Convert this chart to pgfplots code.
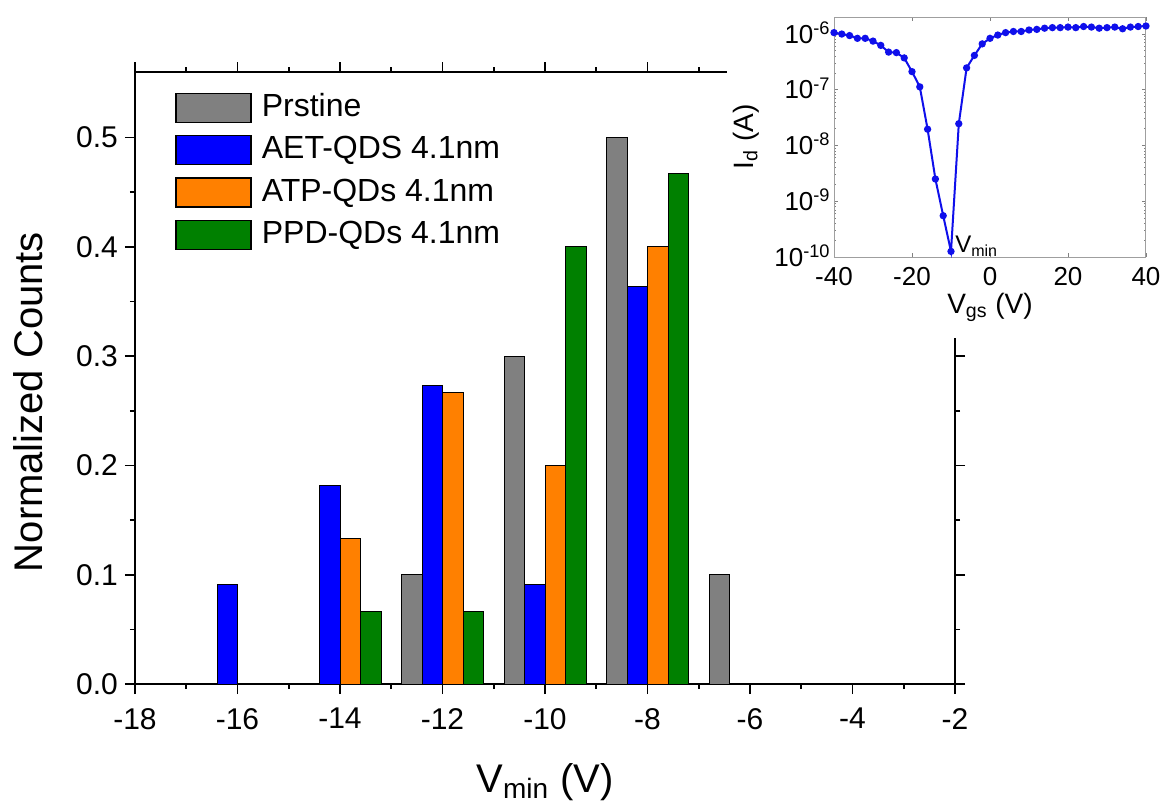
\documentclass[border=0pt]{standalone}
\usepackage{fontspec}
\setmainfont{Liberation Sans}
\usepackage{pgfplots}
\pgfplotsset{compat=1.18}

\definecolor{cGrey}{RGB}{128,128,128}
\definecolor{cBlue}{RGB}{0,0,255}
\definecolor{cOrange}{RGB}{255,128,0}
\definecolor{cGreen}{RGB}{0,128,0}
\definecolor{cLine}{RGB}{15,15,235}

\pgfplotsset{
  boxlegend/.style={legend image code/.code={%
    \draw[##1, line width=0.7pt] (0pt,-7.25pt) rectangle (37.5pt,7.25pt);}},
  histbar/.style={ybar, bar width=0.4, draw=black, line width=0.5pt, boxlegend},
}

\begin{document}
\begin{tikzpicture}[x=1pt,y=1pt]
\path[use as bounding box] (0,0) rectangle (581,405.5);

% histogram of V_min
\begin{axis}[
  at={(67.5pt,63.5pt)}, anchor=south west,
  scale only axis, width=410pt, height=306pt,
  xmin=-18, xmax=-2, ymin=0, ymax=0.56,
  xtick={-18,-16,-14,-12,-10,-8,-6,-4,-2},
  ytick={0,0.1,0.2,0.3,0.4,0.5},
  minor x tick num=1, minor y tick num=1,
  tick align=outside, major tick length=5pt, minor tick length=2.5pt,
  axis line style={line width=1pt},
  every tick/.style={black, line width=0.8pt},
  /pgf/number format/assume math mode=true,
  yticklabel style={/pgf/number format/.cd, fixed, fixed zerofill, precision=1},
  xticklabel style={yshift=-3.5pt},
  tick label style={font=\fontsize{15}{18}\selectfont},
  xlabel={V\textsubscript{min} (V)},
  ylabel={Normalized Counts},
  every axis x label/.style={at={(axis description cs:0.5,-0.1765)}, anchor=base,
    font=\fontsize{20}{24}\selectfont},
  every axis y label/.style={at={(axis description cs:-0.1122,0.4608)}, rotate=90,
    anchor=base, font=\fontsize{20}{24}\selectfont},
  legend style={at={(0.0488,0.967)}, anchor=north west, draw=none, fill=none,
    inner sep=0pt, row sep=6pt, column sep=5pt,
    font=\fontsize{16}{19}\selectfont,
    nodes={inner sep=0pt, text height=11.5pt, text depth=3pt}},
  legend cell align=left,
]
\addplot[histbar, bar shift=-0.6, fill=cGrey]
  coordinates {(-12,0.1) (-10,0.3) (-8,0.5) (-6,0.1)};
\addlegendentry{Prstine}
\addplot[histbar, bar shift=-0.2, fill=cBlue]
  coordinates {(-16,0.0909) (-14,0.1818) (-12,0.2727) (-10,0.0909) (-8,0.3636)};
\addlegendentry{AET-QDS 4.1nm}
\addplot[histbar, bar shift=0.2, fill=cOrange]
  coordinates {(-14,0.1333) (-12,0.2667) (-10,0.2) (-8,0.4)};
\addlegendentry{ATP-QDs 4.1nm}
\addplot[histbar, bar shift=0.6, fill=cGreen]
  coordinates {(-14,0.0667) (-12,0.0667) (-10,0.4) (-8,0.4667)};
\addlegendentry{PPD-QDs 4.1nm}
\end{axis}

% blank panel behind the transfer curve
\fill[white] (363.5,236.5) rectangle (581,405.5);

% transfer curve I_d vs V_gs
\begin{axis}[
  at={(417pt,277pt)}, anchor=south west,
  scale only axis, width=156pt, height=120pt,
  xmin=-40, xmax=40, ymode=log, ymin=1e-10, ymax=2e-6,
  xtick={-40,-20,0,20,40},
  ytick={1e-10,1e-9,1e-8,1e-7,1e-6},
  yticklabels={10\textsuperscript{-10},10\textsuperscript{-9},10\textsuperscript{-8},10\textsuperscript{-7},10\textsuperscript{-6}},
  axis line style={gray!75, line width=0.5pt},
  tick align=inside, major tick length=2pt, minor tick length=1.2pt,
  every tick/.style={gray, line width=0.3pt},
  /pgf/number format/assume math mode=true,
  tick label style={font=\fontsize{13}{15}\selectfont},
  yticklabel style={inner sep=0pt, anchor=base east, yshift=-4.6pt, xshift=-1.5pt,
    text depth=0pt},
  xticklabel style={inner sep=0pt, yshift=-5pt},
  xlabel={V\textsubscript{gs} (V)},
  ylabel={I\textsubscript{d} (A)},
  every axis x label/.style={at={(axis description cs:0.5,-0.2333)}, anchor=base,
    font=\fontsize{14}{16}\selectfont},
  every axis y label/.style={at={(axis description cs:-0.2596,0.5)}, rotate=90,
    anchor=base, font=\fontsize{14}{16}\selectfont},
]
\addplot[cLine, line width=1pt, mark=*, mark size=1.3pt] coordinates {
  (-40,1.05e-6) (-38,9.9e-7) (-36,9.3e-7) (-34,8.3e-7) (-32,8.3e-7)
  (-30,7.4e-7) (-28,6.2e-7) (-26,4.7e-7) (-24,4.6e-7) (-22,3.7e-7)
  (-20,2.1e-7) (-18,1.12e-7) (-16,1.95e-8) (-14,2.5e-9) (-12,5.5e-10)
  (-10,1.26e-10) (-8,2.45e-8) (-6,2.45e-7) (-4,4.1e-7) (-2,6.6e-7)
  (0,8.3e-7) (2,9.5e-7) (4,1.05e-6) (6,1.10e-6) (8,1.10e-6)
  (10,1.17e-6) (12,1.2e-6) (14,1.26e-6) (16,1.29e-6) (18,1.29e-6)
  (20,1.32e-6) (22,1.29e-6) (24,1.35e-6) (26,1.32e-6) (28,1.26e-6)
  (30,1.29e-6) (32,1.32e-6) (34,1.23e-6) (36,1.32e-6) (38,1.35e-6)
  (40,1.38e-6)
};
\node[anchor=base west, inner sep=0pt, font=\fontsize{12}{14}\selectfont]
  at (axis cs:-9,1.18e-10) {V\textsubscript{min}};
\end{axis}
\end{tikzpicture}
\end{document}
